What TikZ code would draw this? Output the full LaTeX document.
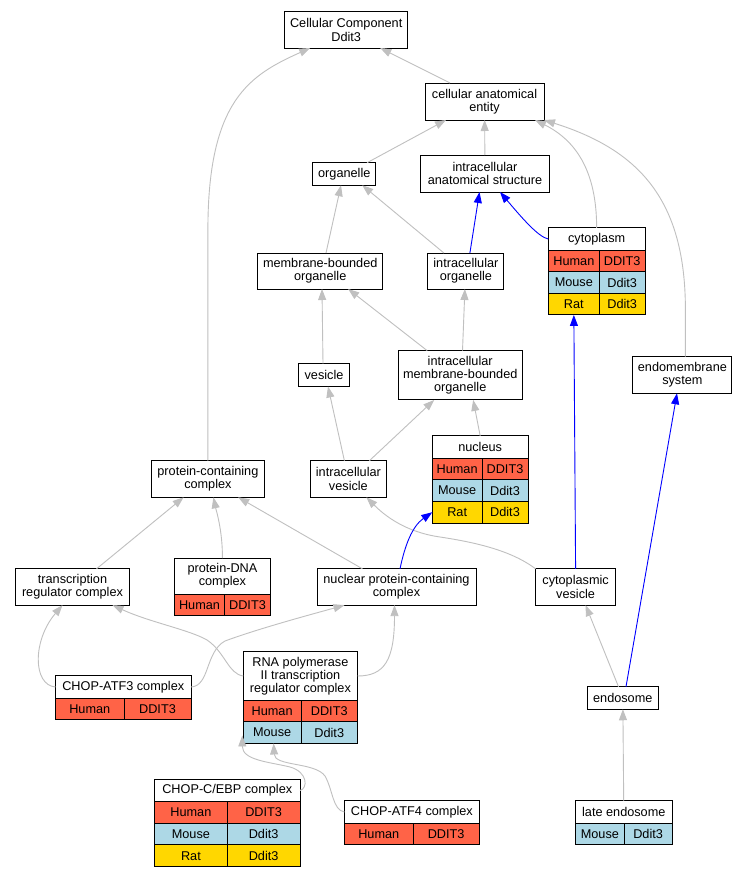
\documentclass[tikz,border=0pt]{standalone}
\usepackage{fontspec}
\setmainfont{Liberation Sans}
\usetikzlibrary{arrows.meta}
\definecolor{human}{HTML}{FF6347}
\definecolor{mouse}{HTML}{ADD8E6}
\definecolor{rat}{HTML}{FFD700}
\definecolor{silver}{HTML}{C0C0C0}

\begin{document}
\begin{tikzpicture}[x=1bp, y=-1bp,
  term/.style={draw, line width=1bp, fill=white, align=center, inner sep=1bp, outer sep=0pt, font=\fontsize{12.75}{13.2}\selectfont},
  cell/.style={term, minimum height=21.6bp, anchor=north west},
  rel/.style={silver, line width=0.9bp, -{Triangle[length=11bp, width=8bp]}},
  relblue/.style={rel, blue}]
  \path[use as bounding box, fill=white] (0,0) rectangle (748,877);

  % Terms
  \node[term, minimum width=123bp, minimum height=36bp] (cc) at (346.2,30) {Cellular Component\\Ddit3};
  \node[term, minimum width=119bp, minimum height=37bp] (cae) at (484.5,101.5) {cellular anatomical\\entity};
  \node[term, minimum width=63bp, minimum height=22.5bp] (org) at (344.3,174) {organelle};
  \node[term, minimum width=129bp, minimum height=37bp] (ias) at (485,173.5) {intracellular\\anatomical structure};
  \node[term, minimum width=124.5bp, minimum height=36bp] (mbo) at (320.2,271) {membrane-bounded\\organelle};
  \node[term, minimum width=76bp, minimum height=36bp] (io) at (465.9,271) {intracellular\\organelle};
  \node[term, minimum width=51bp, minimum height=23bp] (ves) at (324,375) {vesicle};
  \node[term, minimum width=124bp, minimum height=49.3bp] (imbo) at (460.2,375.3) {intracellular\\membrane-bounded\\organelle};
  \node[term, minimum width=99bp, minimum height=36.6bp] (ems) at (682.4,375) {endomembrane\\system};
  \node[term, minimum width=112.6bp, minimum height=36.6bp] (pcc) at (207.9,479) {protein-containing\\complex};
  \node[term, minimum width=76bp, minimum height=36.6bp] (iv) at (348.4,479) {intracellular\\vesicle};
  \node[term, minimum width=113.5bp, minimum height=36.3bp] (trc) at (72.5,587) {transcription\\regulator complex};
  \node[term, minimum width=159bp, minimum height=36.3bp] (npcc) at (396.5,587) {nuclear protein-containing\\complex};
  \node[term, minimum width=80bp, minimum height=36.3bp] (cv) at (575.6,587) {cytoplasmic\\vesicle};
  \node[term, minimum width=70.5bp, minimum height=22.5bp] (endo) at (622.8,698) {endosome};

  % cytoplasm
  \node[term, minimum width=96.7bp, minimum height=22.3bp] (cyto) at (596.65,239) {cytoplasm};
  \node[cell, fill=human, minimum width=51.1bp] (cyto-h1) at (cyto.south west) {Human};
  \node[cell, fill=human, minimum width=45.6bp] (cyto-h2) at (cyto-h1.north east) {DDIT3};
  \node[cell, fill=mouse, minimum width=51.1bp] (cyto-m1) at (cyto-h1.south west) {Mouse};
  \node[cell, fill=mouse, minimum width=45.6bp] (cyto-m2) at (cyto-m1.north east) {Ddit3};
  \node[cell, fill=rat, minimum width=51.1bp] (cyto-r1) at (cyto-m1.south west) {Rat};
  \node[cell, fill=rat, minimum width=45.6bp] (cyto-r2) at (cyto-r1.north east) {Ddit3};

  % nucleus
  \node[term, minimum width=95.7bp, minimum height=22.4bp] (nuc) at (480.15,447) {nucleus};
  \node[cell, fill=human, minimum width=49.7bp] (nuc-h1) at (nuc.south west) {Human};
  \node[cell, fill=human, minimum width=46bp] (nuc-h2) at (nuc-h1.north east) {DDIT3};
  \node[cell, fill=mouse, minimum width=49.7bp] (nuc-m1) at (nuc-h1.south west) {Mouse};
  \node[cell, fill=mouse, minimum width=46bp] (nuc-m2) at (nuc-m1.north east) {Ddit3};
  \node[cell, fill=rat, minimum width=49.7bp] (nuc-r1) at (nuc-m1.south west) {Rat};
  \node[cell, fill=rat, minimum width=46bp] (nuc-r2) at (nuc-r1.north east) {Ddit3};

  % protein-DNA complex
  \node[term, minimum width=95.9bp, minimum height=36bp] (pdna) at (222.45,576) {protein-DNA\\complex};
  \node[cell, fill=human, minimum width=50.1bp] (pdna-h1) at (pdna.south west) {Human};
  \node[cell, fill=human, minimum width=45.8bp] (pdna-h2) at (pdna-h1.north east) {DDIT3};

  % CHOP-ATF3 complex
  \node[term, minimum width=135.5bp, minimum height=22.5bp] (atf3) at (123.25,687) {CHOP-ATF3 complex};
  \node[cell, fill=human, minimum width=68.5bp] (atf3-h1) at (atf3.south west) {Human};
  \node[cell, fill=human, minimum width=67bp] (atf3-h2) at (atf3-h1.north east) {DDIT3};

  % RNA polymerase II complex
  \node[term, minimum width=114.2bp, minimum height=48.5bp] (rnap) at (300.4,676) {RNA polymerase\\II transcription\\regulator complex};
  \node[cell, fill=human, minimum width=57.7bp] (rnap-h1) at (rnap.south west) {Human};
  \node[cell, fill=human, minimum width=56.5bp] (rnap-h2) at (rnap-h1.north east) {DDIT3};
  \node[cell, fill=mouse, minimum width=57.7bp] (rnap-m1) at (rnap-h1.south west) {Mouse};
  \node[cell, fill=mouse, minimum width=56.5bp] (rnap-m2) at (rnap-m1.north east) {Ddit3};

  % CHOP-C/EBP complex
  \node[term, minimum width=145.5bp, minimum height=22.5bp] (cebp) at (227.25,790.5) {CHOP-C/EBP complex};
  \node[cell, fill=human, minimum width=72.8bp] (cebp-h1) at (cebp.south west) {Human};
  \node[cell, fill=human, minimum width=72.7bp] (cebp-h2) at (cebp-h1.north east) {DDIT3};
  \node[cell, fill=mouse, minimum width=72.8bp] (cebp-m1) at (cebp-h1.south west) {Mouse};
  \node[cell, fill=mouse, minimum width=72.7bp] (cebp-m2) at (cebp-m1.north east) {Ddit3};
  \node[cell, fill=rat, minimum width=72.8bp] (cebp-r1) at (cebp-m1.south west) {Rat};
  \node[cell, fill=rat, minimum width=72.7bp] (cebp-r2) at (cebp-r1.north east) {Ddit3};

  % CHOP-ATF4 complex
  \node[term, minimum width=134.8bp, minimum height=22.5bp] (atf4) at (411.9,812) {CHOP-ATF4 complex};
  \node[cell, fill=human, minimum width=68.5bp] (atf4-h1) at (atf4.south west) {Human};
  \node[cell, fill=human, minimum width=66.3bp] (atf4-h2) at (atf4-h1.north east) {DDIT3};

  % late endosome
  \node[term, minimum width=96.4bp, minimum height=22.5bp] (late) at (623.8,812) {late endosome};
  \node[cell, fill=mouse, minimum width=48.6bp] (late-m1) at (late.south west) {Mouse};
  \node[cell, fill=mouse, minimum width=47.8bp] (late-m2) at (late-m1.north east) {Ddit3};

  % Gray links
  \draw[rel] ([xshift=-34.5bp]cae.north) -- ([xshift=34bp]cc.south);
  \draw[rel] (pcc.north) -- ++(0,-231) .. controls +(0,-130) and +(-60,27) .. ([xshift=-36bp]cc.south);
  \draw[rel] ([xshift=22.7bp]org.north) -- ([xshift=-38.5bp]cae.south);
  \draw[rel] (ias) -- (cae);
  \draw[rel] (cyto.north) .. controls +(0,-58) and +(40,20) .. ([xshift=50.5bp]cae.south);
  \draw[rel] ([xshift=3bp]ems.north) -- ++(0,-47) .. controls +(0,-110) and +(95,30) .. (cae.south east);
  \draw[rel] ([xshift=5.8bp]mbo.north) -- ([xshift=-3.3bp]org.south);
  \draw[rel] ([xshift=-22bp]io.north) -- ([xshift=18bp]org.south);
  \draw[rel] ([xshift=-33bp]imbo.north) -- ([xshift=28bp]mbo.south);
  \draw[rel] ([xshift=2.3bp]imbo.north) -- ([xshift=-1bp]io.south);
  \draw[rel] ([xshift=-1bp]ves.north) -- ([xshift=1.8bp]mbo.south);
  \draw[rel] ([xshift=-4bp]iv.north) -- ([xshift=4bp]ves.south);
  \draw[rel] ([xshift=21bp]iv.north) -- ([xshift=-26bp]imbo.south);
  \draw[rel] (nuc.north) -- ([xshift=13bp]imbo.south);
  \draw[rel] ([xshift=24bp]trc.north) -- ([xshift=-24.3bp]pcc.south);
  \draw[rel] (pdna.north) .. controls +(0,-28) and +(3,14) .. ([xshift=5.5bp]pcc.south);
  \draw[rel] ([xshift=-34bp]npcc.north) -- ([xshift=30.3bp]pcc.south);
  \draw[rel] (cv.north west) .. controls +(-25,-19) and +(33,5) .. (440,537) .. controls +(-35,-5) and +(18,18) .. ([xshift=18bp]iv.south);
  \draw[rel] ([xshift=-4.3bp]endo.north) -- ([xshift=10bp]cv.south);
  \draw[rel] (late) -- (endo);
  \draw[rel] (atf3.west) .. controls +(-23,-2) and +(-30,35) .. ([xshift=-10bp]trc.south);
  \draw[rel] (atf3.east) .. controls +(19,-1) and +(-20,11) .. (225,641) .. controls +(35,-13) and +(-25,7) .. ([xshift=-52bp]npcc.south);
  \draw[rel] (rnap.west) .. controls +(-15,-2) and +(18,12) .. (207,640) .. controls +(-17,-10) and +(37,17) .. ([xshift=40bp]trc.south);
  \draw[rel] (rnap.east) .. controls +(27,0) and +(0,55) .. ([xshift=-2bp]npcc.south);
  \draw[rel] (cebp.east) .. controls +(8,-2) and +(18,5) .. (290,767) .. controls +(-20,-5) and +(0,25) .. ([shift={(-1bp,8bp)}]rnap-m1.south west);
  \draw[rel] (atf4.west) .. controls +(-12,-2) and +(8,14) .. (325,776) .. controls +(-10,-14) and +(1,23) .. ([xshift=1.5bp]rnap-m1.south);

  % Blue links
  \draw[relblue] ([xshift=4bp]io.north) -- ([xshift=-5.5bp]ias.south);
  \draw[relblue] (cyto.west) .. controls +(-10,-2) and +(22,26) .. ([xshift=15bp]ias.south);
  \draw[relblue] (cv.north) -- (cyto-r1.south);
  \draw[relblue] ([xshift=3.2bp]endo.north) -- ([xshift=-5.4bp]ems.south);
  \draw[relblue] ([xshift=3.5bp]npcc.north) .. controls +(5,-24) and +(-20,14) .. (nuc-r1.west);
\end{tikzpicture}
\end{document}
